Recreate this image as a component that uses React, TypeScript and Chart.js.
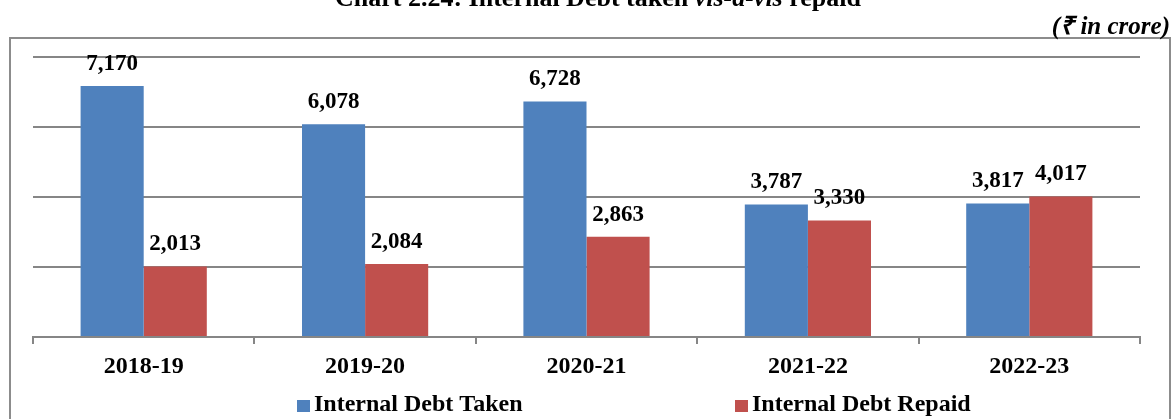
import React, { useEffect, useRef } from "react";
import { Chart, registerables } from "chart.js";

Chart.register(...registerables);

const categories = ["2018-19", "2019-20", "2020-21", "2021-22", "2022-23"];
const debtTaken = [7170, 6078, 6728, 3787, 3817];
const debtRepaid = [2013, 2084, 2863, 3330, 4017];
const seriesNames = ["Internal Debt Taken", "Internal Debt Repaid"];
const titleParts = [
  { text: "Chart 2.24: Internal Debt taken ", italic: false },
  { text: "vis-à-vis", italic: true },
  { text: " repaid", italic: false },
];
const unitText = "(₹ in crore)";

const SERIF = '"Liberation Serif", "Times New Roman", serif';
const BLUE = "#4F81BD";
const RED = "#C0504D";
const GRID = "#868686";

const framePlugin = {
  id: "frame",
  beforeDraw(chart: any) {
    const ctx = chart.ctx;
    ctx.save();
    ctx.fillStyle = "#ffffff";
    ctx.fillRect(0, 0, chart.width, chart.height);
    // border box
    ctx.strokeStyle = "#8c8c8c";
    ctx.lineWidth = 2;
    ctx.strokeRect(10, 38, 1160, 400);
    // title (partially clipped at top)
    ctx.fillStyle = "#000";
    ctx.textBaseline = "alphabetic";
    let total = 0;
    const fonts = titleParts.map((p) => `${p.italic ? "italic " : ""}bold 26px ${SERIF}`);
    titleParts.forEach((p, i) => {
      ctx.font = fonts[i];
      total += ctx.measureText(p.text).width;
    });
    let x = 598 - total / 2;
    titleParts.forEach((p, i) => {
      ctx.font = fonts[i];
      ctx.textAlign = "left";
      ctx.fillText(p.text, x, 6);
      x += ctx.measureText(p.text).width;
    });
    // unit
    ctx.font = `italic bold 25px ${SERIF}`;
    ctx.textAlign = "right";
    ctx.textBaseline = "middle";
    ctx.fillText(unitText, 1170, 28);
    ctx.restore();
  },
  afterDraw(chart: any) {
    const ctx = chart.ctx;
    ctx.save();
    const positions = [297, 735];
    chart.data.datasets.forEach((ds: any, i: number) => {
      const x = positions[i];
      ctx.fillStyle = ds.backgroundColor;
      ctx.fillRect(x, 400, 13, 12);
      ctx.fillStyle = "#000";
      ctx.font = `bold 24px ${SERIF}`;
      ctx.textAlign = "left";
      ctx.textBaseline = "middle";
      ctx.fillText(ds.label, x + 17, 405);
    });
    ctx.restore();
  },
};

const valueLabelPlugin = {
  id: "valueLabels",
  afterDatasetsDraw(chart: any) {
    const ctx = chart.ctx;
    ctx.save();
    ctx.fillStyle = "#000";
    ctx.font = `bold 23px ${SERIF}`;
    ctx.textAlign = "center";
    ctx.textBaseline = "middle";
    chart.data.datasets.forEach((ds: any, di: number) => {
      const meta = chart.getDatasetMeta(di);
      meta.data.forEach((bar: any, i: number) => {
        const v = ds.data[i] as number;
        ctx.fillText(v.toLocaleString("en-US"), bar.x, bar.y - 22);
      });
    });
    ctx.restore();
  },
};

export default function App() {
  const ref = useRef<HTMLCanvasElement | null>(null);
  useEffect(() => {
    if (!ref.current) return;
    const chart = new Chart(ref.current, {
      type: "bar",
      data: {
        labels: categories,
        datasets: [
          { label: seriesNames[0], data: debtTaken, backgroundColor: BLUE, borderWidth: 0 },
          { label: seriesNames[1], data: debtRepaid, backgroundColor: RED, borderWidth: 0 },
        ],
      },
      options: {
        animation: false,
        responsive: false,
        maintainAspectRatio: false,
        devicePixelRatio: 1,
        layout: { padding: { left: 33, right: 33, top: 57, bottom: 22 } },
        plugins: { legend: { display: false }, title: { display: false }, tooltip: { enabled: false } },
        datasets: { bar: { categoryPercentage: 0.57, barPercentage: 1 } },
        scales: {
          x: {
            afterFit: (s: any) => {
              s.height = 60;
            },
            border: { display: true, color: GRID, width: 2 },
            grid: { display: true, drawOnChartArea: false, drawTicks: true, tickLength: 7, offset: true, color: GRID, lineWidth: 2 },
            ticks: { color: "#000", font: { family: SERIF, size: 24, weight: "bold" }, padding: 8 },
          },
          y: {
            min: 0,
            max: 8000,
            afterFit: (s: any) => {
              s.width = 0;
            },
            ticks: { display: false, stepSize: 2000 },
            border: { display: false },
            grid: { color: GRID, lineWidth: 2, drawTicks: false },
          },
        },
      },
      plugins: [framePlugin, valueLabelPlugin],
    });
    return () => chart.destroy();
  }, []);
  return (
    <div style={{ position: "fixed", left: 0, top: 0, width: 1173, height: 419, background: "#fff" }}>
      <canvas ref={ref} width={1173} height={419} style={{ display: "block", width: 1173, height: 419 }} />
    </div>
  );
}
